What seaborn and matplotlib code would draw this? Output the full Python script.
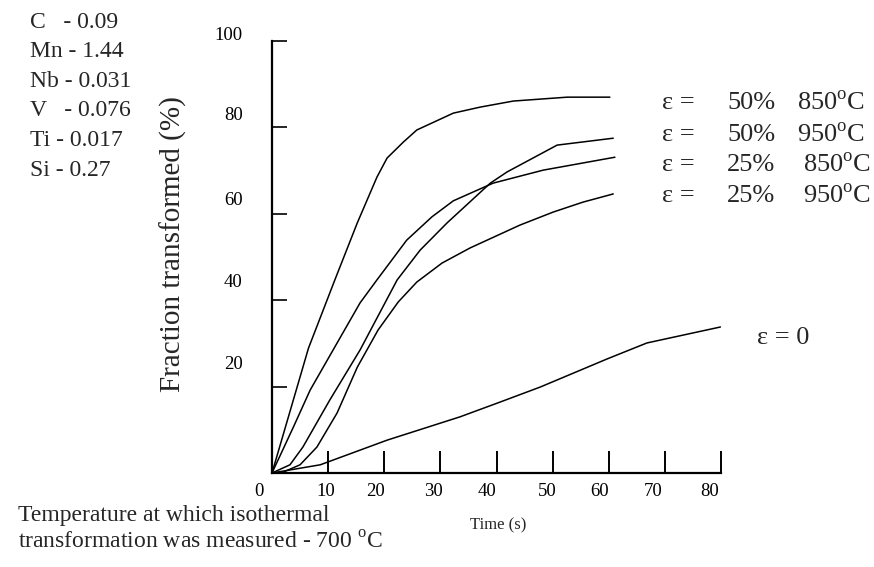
import matplotlib
matplotlib.use("Agg")
import matplotlib.pyplot as plt
from matplotlib.transforms import ScaledTranslation
import seaborn as sns
import pandas as pd

# ---- data ----
t_50_850 = [0, 6.5, 11.2, 15.2, 18.7, 20.5, 23.4, 25.8, 32.3, 37.1, 43.0, 52.6, 60.2]
f_50_850 = [0, 28.9, 44.7, 57.9, 68.5, 72.9, 76.6, 79.4, 83.3, 84.7, 86.1, 87.0, 87.0]

t_50_950 = [0, 3.2, 5.5, 10.3, 15.7, 22.3, 26.4, 31.2, 38.9, 41.9, 50.8, 60.8]
f_50_950 = [0, 1.9, 6.0, 16.9, 28.5, 44.7, 51.6, 57.9, 67.1, 69.7, 75.9, 77.5]

t_25_850 = [0, 3.8, 6.8, 11.6, 15.7, 18.7, 24.0, 28.5, 32.3, 39.4, 48.3, 61.1]
f_25_850 = [0, 10.6, 19.2, 30.1, 39.4, 44.7, 53.9, 59.3, 63.0, 67.1, 70.1, 73.1]

t_25_950 = [0, 2.0, 5.0, 8.0, 11.6, 15.2, 18.9, 22.5, 25.8, 30.3, 35.3, 44.2, 50.1, 55.4, 60.8]
f_25_950 = [0, 0.2, 1.9, 6.0, 13.9, 24.5, 33.1, 39.6, 44.2, 48.6, 52.1, 57.4, 60.4, 62.7, 64.6]

t_0 = [0, 8.6, 20.5, 33.5, 40.6, 47.8, 59.7, 66.8, 79.9]
f_0 = [0, 1.9, 7.6, 13.0, 16.4, 19.9, 26.4, 30.1, 33.8]

series_names = ["50% 850", "50% 950", "25% 850", "25% 950", "0"]
x_ticks = [0, 10, 20, 30, 40, 50, 60, 70, 80]
y_ticks = [20, 40, 60, 80, 100]

composition = [("C", "   - 0.09"), ("Mn", " - 1.44"), ("Nb", " - 0.031"),
               ("V", "   - 0.076"), ("Ti", " - 0.017"), ("Si", " - 0.27")]
legend_strain = ["50%", "50%", "25%", "25%"]
legend_temp = ["850", "950", "850", "950"]

# ---- build long-form table ----
frames = []
for name, t, f in zip(series_names,
                      [t_50_850, t_50_950, t_25_850, t_25_950, t_0],
                      [f_50_850, f_50_950, f_25_850, f_25_950, f_0]):
    frames.append(pd.DataFrame({"time": t, "fraction": f, "series": name}))
df = pd.concat(frames, ignore_index=True)

sns.set_style("ticks")
plt.rcParams["font.family"] = ["Liberation Serif", "DejaVu Serif"]
plt.rcParams["mathtext.fontset"] = "custom"
plt.rcParams["mathtext.rm"] = "Liberation Serif"

W, H = 874, 567
fig = plt.figure(figsize=(W / 100, H / 100), dpi=100)
fig.patch.set_facecolor("white")
x0, x1, y0, y1 = 272, 721, 473, 41
ax = fig.add_axes([x0 / W, 1 - y0 / H, (x1 - x0) / W, (y0 - y1) / H])
ax.set_facecolor("white")

sns.lineplot(data=df, x="time", y="fraction", hue="series",
             palette=["black"] * 5, sort=False, estimator=None,
             legend=False, linewidth=1.1, ax=ax)

ax.set_xlim(0, 80)
ax.set_ylim(0, 100)
sns.despine(ax=ax)
for s in ("left", "bottom"):
    ax.spines[s].set_linewidth(1.6)
    ax.spines[s].set_color("black")
ax.set_xlabel("")
ax.set_ylabel("")

ax.set_xticks(x_ticks)
ax.set_xticklabels([str(v) for v in x_ticks])
ax.set_yticks(y_ticks)
ax.set_yticklabels([str(v) for v in y_ticks])
ax.tick_params(axis="x", direction="in", length=16, width=1.4, pad=7,
               labelsize=13.5, colors="black")
ax.tick_params(axis="y", direction="in", length=11, width=1.2, pad=21,
               labelsize=13.5, colors="black")

# irregular placement of hand-lettered tick labels
x_offs = [-13, -2, -9, -7, -10, -5, -9, -12, -11]
y_offs = [24, 20, 15, 14, 8]
for lab, dx in zip(ax.get_xticklabels(), x_offs):
    lab.set_transform(lab.get_transform() + ScaledTranslation(dx / 100, 0, fig.dpi_scale_trans))
for lab, dy in zip(ax.get_yticklabels(), y_offs):
    lab.set_transform(lab.get_transform() + ScaledTranslation(0, dy / 100, fig.dpi_scale_trans))

def ft(px, py, s, **kw):
    fig.text(px / W, 1 - py / H, s, **kw)

# axis titles
ft(173, 244, "Fraction transformed (%)", fontsize=21, rotation=90, ha="center", va="center")
ft(498, 525, "Time (s)", fontsize=12, ha="center", va="center")

# composition
for i, (el, val) in enumerate(composition):
    ft(30, 22 + 29.6 * i, el + val, fontsize=17, ha="left", va="center")

# curve labels
ly = [103, 135, 165, 196]
tx = [797, 797, 803, 803]
for i in range(4):
    ft(662, ly[i], "\u03b5 =", fontsize=19, ha="left", va="center")
    ft(727, ly[i], legend_strain[i], fontsize=19, ha="left", va="center")
    ft(tx[i], ly[i], legend_temp[i] + r"$^{\mathrm{o}}$C", fontsize=19, ha="left", va="center")
ft(757, 338, "\u03b5 = 0", fontsize=19, ha="left", va="center")

# footnote
ft(18, 515, "Temperature at which isothermal", fontsize=17, ha="left", va="center")
ft(18, 543, "transformation was measured - 700 " + r"$^{\mathrm{o}}$C", fontsize=17,
   ha="left", va="center")

fig.savefig("out.png", dpi=100, facecolor="white")
